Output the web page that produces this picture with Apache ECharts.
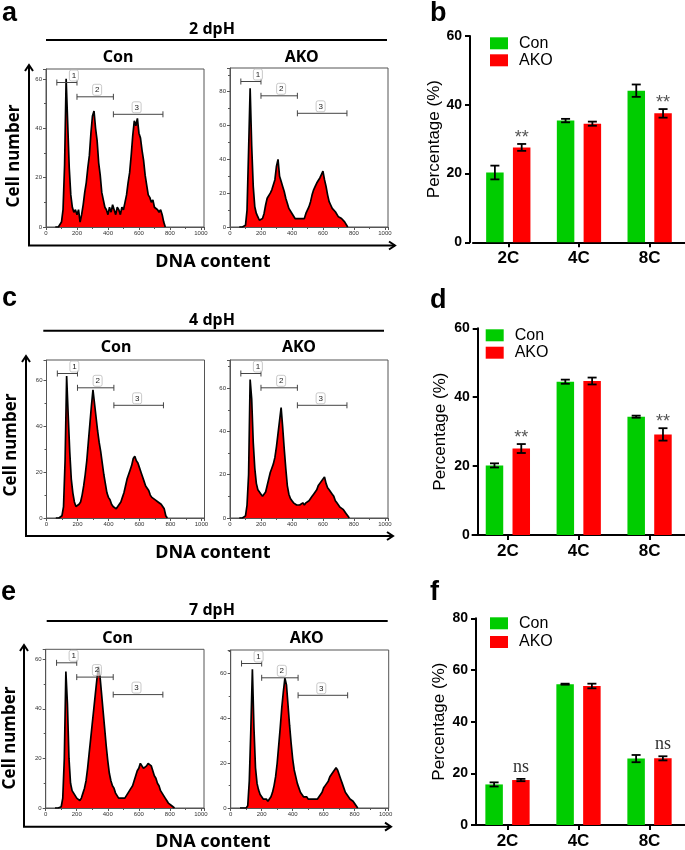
<!DOCTYPE html>
<html lang="en">
<head>
<meta charset="UTF-8">
<title>DNA content</title>
<script src="https://cdn.jsdelivr.net/npm/echarts@6/dist/echarts.min.js"></script>
<style>html,body{margin:0;padding:0;background:#fff}</style>
</head>
<body>
<div id="main" style="width:685px;height:850px"></div>
<script type="text/javascript">
// histogram channels: first bin and bin width (DNA content units)
var binStart = 60, binStep = 10;

// cell counts per channel
var aCon = [0,0,0,0.5,2,7,25,60,42,24, 13,8,6,7,5,7,2,5,9,14, 18,24,29,38,45,47,40,35,26,21,
            14,11,8,7,5,8,6,9,7,5, 8,7,5,8,7,10,13,18,22,29, 37,43,41,44,38,36,31,27,21,17,
            13,12,10,11,8,8,7,6,7,5, 2,0];
var aAko = [0,0,0,0,1,10,45,82,48,24, 12,8,6,4,4,5,8,13,17,18, 20,22,25,28,36,40,30,27,24,21,
            17,14,11,10,8,7,5,6,5,4, 5,6,5,8,9,12,15,19,22,24, 26,27,29,31,33,28,24,19,15,13,
            11,10,9,8,6,5,5,4,3,2, 0];
var cCon = [0,0,0,0.5,1,5,25,62,45,29, 17,11,7,5,5,6,7,10,14,19, 25,33,41,49,56,50,44,38,33,29,
            24,19,15,11,9,8,6,5,5,4, 5,6,7,9,11,14,17,19,21,23, 26,27,25,24,22,20,18,16,14,13,
            12,10,9,9,8,8,7,7,6,5, 4,1,0];
var cAko = [0,0,0,0,1,6,20,64,55,35, 23,16,13,12,11,10,10,12,15,18, 21,23,25,28,33,39,45,51,42,32,
            23,15,11,9,8,7,7,6,6,6, 6,7,6,7,7,8,9,10,11,12, 13,15,16,17,17,19,16,14,13,12,
            11,10,8,7,6,5,5,4,3,2, 1,0];
var eCon = [0,0,0,0,0.5,4,20,55,42,20, 10,7,6,5,4,4,3,4,6,8, 11,16,22,28,34,40,46,52,57,53,
            46,39,32,25,19,14,11,9,8,6, 5,4,4,4,4,4,5,6,7,8, 9,11,13,15,16,18,17,16,16,17,
            18,18,17,15,13,12,10,9,7,6, 5,4,3,2,2,1,0.5,0];
var eAko = [0,0,0,0,0,1,12,35,62,36, 18,11,8,6,5,4,4,4,3,4, 5,7,10,14,20,28,36,45,52,58,
            55,46,37,29,22,17,14,11,9,7, 6,5,5,5,4,4,4,4,4,4, 4,5,6,7,9,10,11,12,14,15,
            16,17,18,17,15,13,11,9,7,6, 5,4,4,3,2,1,0];

// gates drawn on every histogram
var gateRanges = [[70, 200], [200, 435], [435, 755]];
var gateLabelX = [180, 330, 585];
var gateNames = ['1', '2', '3'];

// bar charts: percentage of 2C / 4C / 8C nuclei
var ploidy = ['2C', '4C', '8C'];
var bCon = [20.3, 35.4, 44.1], bConErr = [2.0, 0.5, 1.8];
var bAko = [27.6, 34.5, 37.5], bAkoErr = [1.0, 0.6, 1.25];
var bMarks = ['**', '', '**'];
var dCon = [20.2, 44.5, 34.35], dConErr = [0.6, 0.6, 0.3];
var dAko = [25.1, 44.7, 29.2], dAkoErr = [1.3, 1.0, 1.8];
var dMarks = ['**', '', '**'];
var fCon = [15.7, 54.5, 25.7], fConErr = [0.8, 0.2, 1.4];
var fAko = [17.4, 53.8, 25.8], fAkoErr = [0.45, 0.9, 0.8];
var fMarks = ['ns', '', 'ns'];

var GREEN = '#00cc00', RED = '#ff0000';
var SANS = '"Liberation Sans", Arial, sans-serif';
var NOTO = '"Noto Sans", "Open Sans", sans-serif';

var myChart = echarts.init(document.getElementById('main'));

var grids = [], xAxes = [], yAxes = [], series = [], legends = [];

function histPairs(arr) {
    return arr.map(function (v, i) { return [binStart + i * binStep, v]; });
}

var histPanels = [
    {data: aCon, ymax: 64, box: [46, 69, 158, 158]},
    {data: aAko, ymax: 94, box: [230, 68, 158, 159]},
    {data: cCon, ymax: 69, box: [46.5, 360, 158, 158]},
    {data: cAko, ymax: 73, box: [230, 360, 158, 158]},
    {data: eCon, ymax: 64, box: [45.7, 649.3, 158.3, 158.7]},
    {data: eAko, ymax: 70.6, box: [230.7, 650, 158, 158]}
];
var gateDrop = [13.5, 27.8, 45.3];

histPanels.forEach(function (p, k) {
    grids.push({left: p.box[0], top: p.box[1], width: p.box[2], height: p.box[3],
        show: true, borderColor: '#555', borderWidth: 1, backgroundColor: 'transparent'});
    var tickLine = {color: '#555', width: 1};
    xAxes.push({
        gridIndex: k, type: 'value', min: 0, max: 1020, interval: 200,
        axisLine: {show: true, lineStyle: tickLine},
        axisTick: {show: true, length: 3, lineStyle: tickLine},
        minorTick: {show: true, splitNumber: 2, length: 2, lineStyle: tickLine},
        splitLine: {show: false},
        axisLabel: {fontSize: 6, color: '#333', margin: 3, showMaxLabel: false,
            formatter: function (v) { return v % 200 === 0 ? v : ''; }}
    });
    yAxes.push({
        gridIndex: k, type: 'value', min: 0, max: p.ymax, interval: 20,
        axisLine: {show: true, lineStyle: tickLine},
        axisTick: {show: true, length: 3, lineStyle: tickLine},
        minorTick: {show: true, splitNumber: 2, length: 2, lineStyle: tickLine},
        splitLine: {show: false},
        axisLabel: {fontSize: 6, color: '#333', margin: 4, showMaxLabel: false,
            formatter: function (v) { return v % 20 === 0 ? v : ''; }}
    });
    series.push({
        type: 'line', name: 'hist' + k, xAxisIndex: k, yAxisIndex: k,
        data: histPairs(p.data), showSymbol: false, symbol: 'none', silent: true,
        lineStyle: {color: '#000', width: 1.7},
        areaStyle: {color: RED, opacity: 1}
    });
    series.push({
        type: 'custom', name: 'gate' + k, xAxisIndex: k, yAxisIndex: k, z: 5, silent: true,
        data: gateRanges.map(function (r, i) { return [r[0], r[1], gateLabelX[i], 0]; }),
        encode: {x: [0, 1, 2], y: 3},
        renderItem: function (params, api) {
            var i = params.dataIndex;
            var y = params.coordSys.y + gateDrop[i];
            var x1 = api.coord([api.value(0), 0])[0];
            var x2 = api.coord([api.value(1), 0])[0];
            var lx = api.coord([api.value(2), 0])[0];
            var st = {stroke: '#444', lineWidth: 1};
            return {type: 'group', children: [
                {type: 'line', shape: {x1: x1, y1: y, x2: x2, y2: y}, style: st},
                {type: 'line', shape: {x1: x1, y1: y - 3, x2: x1, y2: y + 3}, style: st},
                {type: 'line', shape: {x1: x2, y1: y - 3, x2: x2, y2: y + 3}, style: st},
                {type: 'rect', shape: {x: lx - 4.5, y: y - 12.5, width: 9, height: 11, r: 2},
                    style: {fill: 'rgba(255,255,255,0.7)', stroke: '#bbb', lineWidth: 0.8}},
                {type: 'text', style: {text: gateNames[i], x: lx, y: y - 7, align: 'center',
                    verticalAlign: 'middle', fontSize: 8, fontFamily: SANS, fill: '#222'}}
            ]};
        }
    });
});

var barPanels = [
    {con: bCon, conErr: bConErr, ako: bAko, akoErr: bAkoErr, marks: bMarks, ymax: 60,
        box: [472.95, 36, 215.1, 206.3], axisOffset: 2.95, nameGap: 22, legend: [490, 35.3, 1]},
    {con: dCon, conErr: dConErr, ako: dAko, akoErr: dAkoErr, marks: dMarks, ymax: 60,
        box: [472.45, 328.3, 215.1, 206.7], axisOffset: -5.25, nameGap: 28.5, legend: [485.7, 327.3, 1.4]},
    {con: fCon, conErr: fConErr, ako: fAko, akoErr: fAkoErr, marks: fMarks, ymax: 80,
        box: [472, 618.3, 215.4, 206.7], axisOffset: -4, nameGap: 28, legend: [490, 615.3, 2.7]}
];
var barWidth = 17.5, barShift = 13.4;

function errorSeries(g, vals, errs, shift, marks) {
    return {
        type: 'custom', xAxisIndex: g, yAxisIndex: g, z: 6, silent: true,
        data: vals.map(function (v, i) { return [i, v, errs[i]]; }),
        encode: {x: 0, y: 1},
        renderItem: function (params, api) {
            var cat = api.value(0), v = api.value(1), e = api.value(2);
            var x = api.coord([cat, v])[0] + shift;
            var top = api.coord([cat, v + e])[1];
            var bot = api.coord([cat, v - e])[1];
            var st = {stroke: '#000', lineWidth: 1.8};
            var kids = [
                {type: 'line', shape: {x1: x, y1: top, x2: x, y2: bot}, style: st},
                {type: 'line', shape: {x1: x - 4.5, y1: top, x2: x + 4.5, y2: top}, style: st},
                {type: 'line', shape: {x1: x - 4.5, y1: bot, x2: x + 4.5, y2: bot}, style: st}
            ];
            var m = marks ? marks[params.dataIndex] : '';
            if (m === '**') {
                kids.push({type: 'text', style: {text: m, x: x, y: top + 3, align: 'center',
                    verticalAlign: 'bottom', fontSize: 18, fontFamily: SANS, fill: '#555'}});
            } else if (m) {
                kids.push({type: 'text', style: {text: m, x: x, y: top - 3, align: 'center',
                    verticalAlign: 'bottom', fontSize: 18, fontFamily: '"Liberation Serif", serif', fill: '#333'}});
            }
            return {type: 'group', children: kids};
        }
    };
}

barPanels.forEach(function (p, j) {
    var g = histPanels.length + j;
    grids.push({left: p.box[0], top: p.box[1], width: p.box[2], height: p.box[3]});
    var blk = {color: '#000', width: 2};
    xAxes.push({
        gridIndex: g, type: 'category', data: ploidy,
        axisLine: {show: true, lineStyle: blk},
        axisTick: {show: true, alignWithLabel: true, length: 5, lineStyle: blk},
        axisLabel: {fontSize: 17, fontWeight: 'bold', fontFamily: SANS, color: '#000', margin: 8}
    });
    yAxes.push({
        gridIndex: g, type: 'value', min: 0, max: p.ymax, interval: 20, offset: p.axisOffset,
        axisLine: {show: true, lineStyle: blk},
        axisTick: {show: true, length: 5, lineStyle: blk},
        splitLine: {show: false},
        axisLabel: {fontSize: 14, fontWeight: 'bold', fontFamily: SANS, color: '#000', margin: 8},
        name: 'Percentage (%)', nameLocation: 'middle', nameGap: p.nameGap,
        nameTextStyle: {fontSize: 17, fontFamily: SANS, color: '#000'}
    });
    series.push({type: 'bar', name: 'Con', xAxisIndex: g, yAxisIndex: g, data: p.con,
        barWidth: barWidth, barGap: '53%', itemStyle: {color: GREEN}});
    series.push({type: 'bar', name: 'AKO', xAxisIndex: g, yAxisIndex: g, data: p.ako,
        barWidth: barWidth, barGap: '53%', itemStyle: {color: RED}});
    series.push(errorSeries(g, p.con, p.conErr, -barShift, null));
    series.push(errorSeries(g, p.ako, p.akoErr, barShift, p.marks));
    legends.push({
        orient: 'vertical', left: p.legend[0], top: p.legend[1], itemGap: p.legend[2],
        padding: 0, itemWidth: 18, itemHeight: 12, icon: 'rect', selectedMode: false,
        data: ['Con', 'AKO'],
        textStyle: {fontSize: 16, fontFamily: SANS, color: '#000', padding: [0, 0, 0, 6]}
    });
});

// annotations: panel letters, titles, arrows
function text(x, y, s, size, weight, family, rot) {
    return {type: 'text', x: x, y: y, rotation: rot || 0, silent: true,
        style: {text: s, x: 0, y: 0, align: rot === undefined ? 'left' : 'center', verticalAlign: 'middle',
            fontSize: size, fontWeight: weight, fontFamily: family, fill: '#000'}};
}
function ctext(x, y, s, size, weight, family, rot) {
    var t = text(x, y, s, size, weight, family, rot || 0);
    t.style.align = 'center';
    return t;
}
function line(pts, w) {
    return {type: 'polyline', silent: true, shape: {points: pts},
        style: {stroke: '#000', lineWidth: w, fill: null}};
}

var graphics = [];
[['a', 2, 13.9], ['b', 430, 13.9], ['c', 2, 298.9], ['d', 430, 300.6], ['e', 1, 592.3], ['f', 430, 592.3]]
    .forEach(function (l) { graphics.push(text(l[1], l[2], l[0], 27, 'bold', SANS)); });

var rows = [
    {title: '2 dpH', ty: 29, line: [46, 387, 40], lab: [[118, 'Con'], [301.7, 'AKO']], ly: 57.5,
        cell: [14.2, 156], dna: 261.5, arrow: [29, 65, 245.5, 395]},
    {title: '4 dpH', ty: 320, line: [43.3, 384, 330.7], lab: [[116, 'Con'], [299, 'AKO']], ly: 347.5,
        cell: [11.2, 445], dna: 553.3, arrow: [26, 356, 536, 393]},
    {title: '7 dpH', ty: 610, line: [46.7, 387.7, 621], lab: [[117.5, 'Con'], [306.7, 'AKO']], ly: 638,
        cell: [9.7, 738], dna: 842.3, arrow: [24, 645, 826.7, 391]}
];
rows.forEach(function (r) {
    graphics.push(ctext(212, r.ty, r.title, 16, 'bold', NOTO));
    graphics.push(line([[r.line[0], r.line[2]], [r.line[1], r.line[2]]], 2));
    r.lab.forEach(function (l) { graphics.push(ctext(l[0], r.ly, l[1], 16, 'bold', NOTO)); });
    graphics.push(ctext(r.cell[0], r.cell[1], 'Cell number', 17, 'bold', NOTO, Math.PI / 2));
    graphics.push(ctext(213, r.dna, 'DNA content', 18, 'bold', NOTO));
    var a = r.arrow;
    graphics.push(line([[a[0], a[1]], [a[0], a[2]], [a[3], a[2]]], 2));
    graphics.push(line([[a[0] - 4, a[1] + 6], [a[0], a[1]], [a[0] + 4, a[1] + 6]], 2));
    graphics.push(line([[a[3] - 6, a[2] - 4], [a[3], a[2]], [a[3] - 6, a[2] + 4]], 2));
});

var option = {
    backgroundColor: '#fff',
    animation: false,
    grid: grids,
    xAxis: xAxes,
    yAxis: yAxes,
    legend: legends,
    series: series,
    graphic: graphics
};
myChart.setOption(option);
</script>
</body>
</html>
